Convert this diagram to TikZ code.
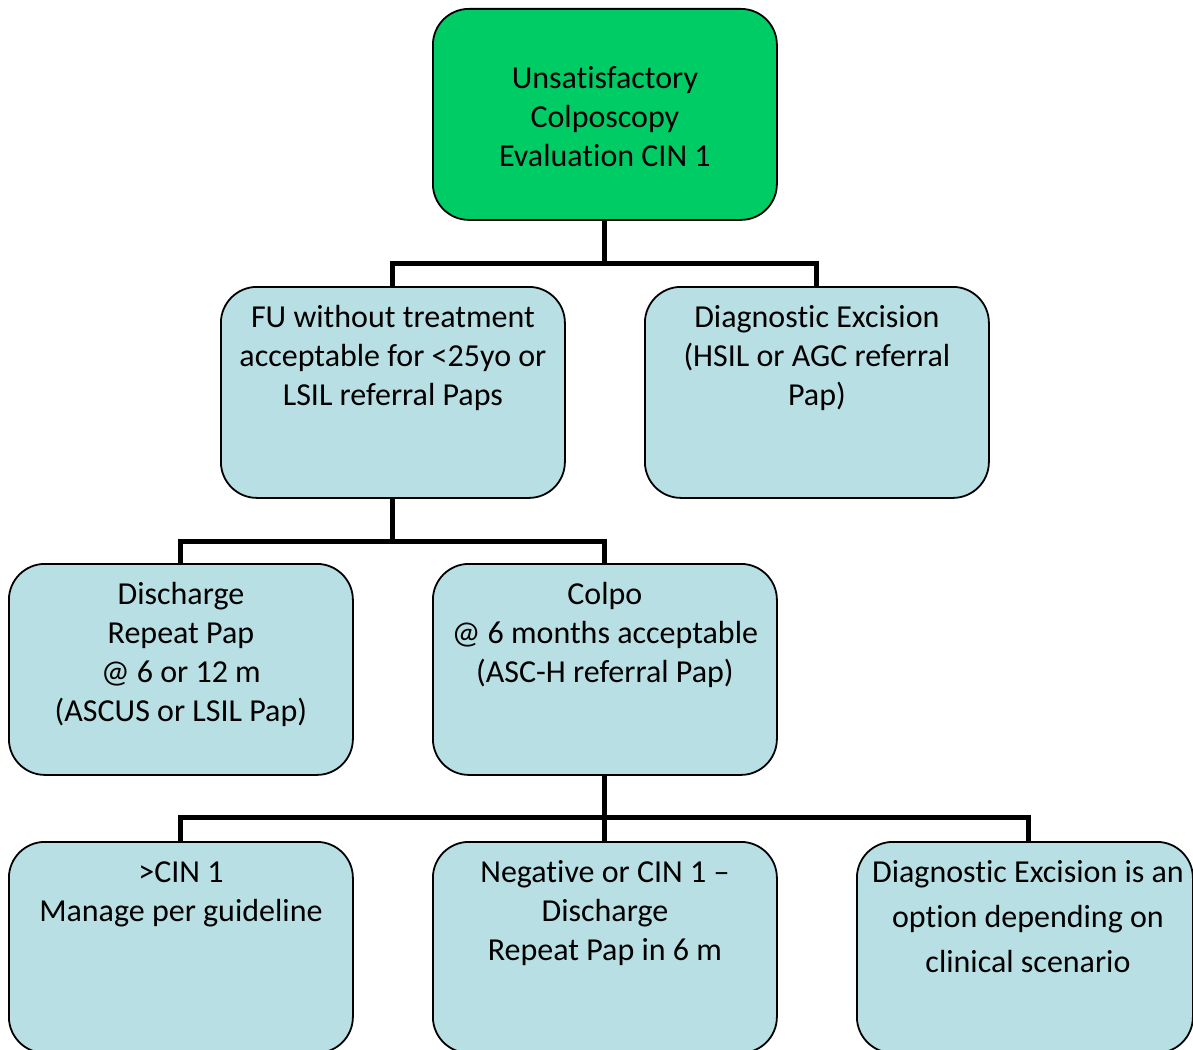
\documentclass[tikz,border=0pt]{standalone}
\usepackage{fontspec}
\setmainfont[Ligatures=NoCommon]{Carlito}
\definecolor{boxgreen}{RGB}{0,204,102}
\definecolor{boxblue}{RGB}{184,223,227}
% fixed first-line height so every card's text starts at the same depth
\newcommand{\firstline}{\rule{0pt}{26pt}}
\begin{document}
\begin{tikzpicture}[x=1pt,y=-1pt,
  card/.style={draw=black, line width=1.8pt, rounded corners=36pt, fill=boxblue,
    minimum width=344pt, minimum height=211pt, inner sep=0pt, anchor=north west},
  cardtext/.style={anchor=north, inner sep=0pt, align=center,
    font=\fontsize{32}{39}\selectfont},
  link/.style={line width=5pt, line join=miter}]
\useasboundingbox (0,0) rectangle (1193,1049);
\clip (0,0) rectangle (1193,1049);

% cards
\node[card, fill=boxgreen] (root) at (432,8) {};
\node[card] (fu) at (220,286) {};
\node[card] (dx) at (644,286) {};
\node[card] (dis) at (8,563) {};
\node[card] (colpo) at (432,563) {};
\node[card] (gt) at (8,841) {};
\node[card] (neg) at (432,841) {};
\node[card, minimum width=336pt] (opt) at (856,841) {};

% card texts
\node[cardtext] (rootT) at ([yshift=-54pt]root.north)
  {\firstline Unsatisfactory\\Colposcopy\\Evaluation CIN 1};
\node[cardtext] (fuT) at ([yshift=-15pt]fu.north)
  {\firstline FU without treatment\\acceptable for <25yo or\\LSIL referral Paps};
\node[cardtext] (dxT) at ([yshift=-15pt]dx.north)
  {\firstline Diagnostic Excision\\(HSIL or AGC referral\\Pap)};
\node[cardtext] (disT) at ([yshift=-15pt]dis.north)
  {\firstline Discharge\\Repeat Pap\\@ 6 or 12 m\\(ASCUS or LSIL Pap)};
\node[cardtext] (colpoT) at ([yshift=-15pt]colpo.north)
  {\firstline Colpo\\@ 6 months acceptable\\(ASC-H referral Pap)};
\node[cardtext] (gtT) at ([yshift=-15pt]gt.north)
  {\firstline >CIN 1\\Manage per guideline};
\node[cardtext] (negT) at ([yshift=-15pt]neg.north)
  {\firstline Negative or CIN 1 --\\Discharge\\Repeat Pap in 6 m};
\node[cardtext, font=\fontsize{32}{45}\selectfont] (optT) at (1028,856)
  {\firstline Diagnostic Excision is an\\option depending on\\clinical scenario};

% connectors
\coordinate (busA) at ([yshift=-43pt]root.south);
\draw[link] (root.south) -- (busA);
\draw[link] (fu.north) |- (busA) -| (dx.north);

\coordinate (busB) at ([yshift=-43pt]fu.south);
\draw[link] (fu.south) -- (busB);
\draw[link] (dis.north) |- (busB) -| (colpo.north);

\coordinate (busC) at ([yshift=-42pt]colpo.south);
\coordinate (optin) at (1028,841);
\draw[link] (colpo.south) -- (busC);
\draw[link] (gt.north) |- (busC) -| (optin);
\draw[link] (busC) -- (neg.north);
\end{tikzpicture}
\end{document}
